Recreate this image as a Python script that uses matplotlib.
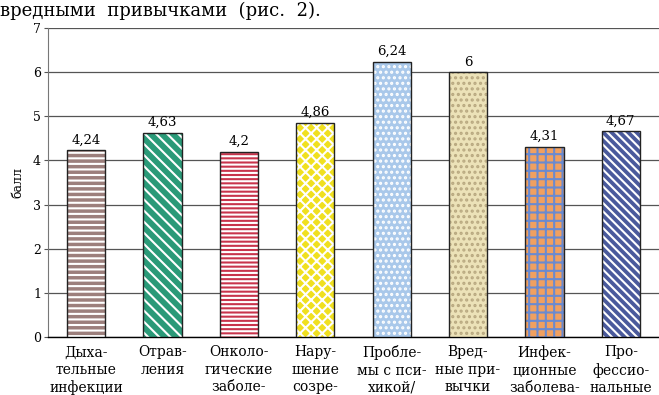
import numpy as np
import matplotlib.pyplot as plt

# данные (баллы по группам заболеваний)
categories = ["Дыха-\nтельные\nинфекции", "Отрав-\nления", "Онколо-\nгические\nзаболе-",
              "Нару-\nшение\nсозре-", "Пробле-\nмы с пси-\nхикой/", "Вред-\nные при-\nвычки",
              "Инфек-\nционные\nзаболева-", "Про-\nфессио-\nнальные"]
values = [4.24, 4.63, 4.2, 4.86, 6.24, 6, 4.31, 4.67]
value_labels = ["4,24", "4,63", "4,2", "4,86", "6,24", "6", "4,31", "4,67"]

# заливка и штриховка для каждого столбца
face_colors = ["#9c7f7c", "#2a9a78", "#c8344c", "#f0e020", "#a9c8ea", "#ece2b8", "#f0a060", "#4a5a9c"]
hatch_colors = ["white", "white", "white", "white", "white", "#b8a880", "#6a8ad0", "white"]
hatches = ["---", "\\\\\\", "----", "xxx", "...", "...", "++", "\\\\\\\\"]

plt.rcParams['font.family'] = 'DejaVu Serif'
plt.rcParams['hatch.linewidth'] = 1.5

fig = plt.figure(figsize=(6.59, 3.95), dpi=100)
ax = fig.add_axes([0.0728, 0.1468, 0.9272, 0.7822])

x = np.arange(len(values))
for i in range(len(values)):
    ax.bar(x[i], values[i], width=0.5, color=face_colors[i], hatch=hatches[i],
           edgecolor=hatch_colors[i], linewidth=0, zorder=3)
ax.bar(x, values, width=0.5, fill=False, edgecolor='#222222', linewidth=1.0, zorder=4)

for i in range(len(values)):
    ax.text(x[i], values[i] + 0.08, value_labels[i], ha='center', va='bottom', fontsize=9.5, zorder=5)

ax.set_xlim(-0.5, 7.5)
ax.set_ylim(0, 7)
ax.set_yticks(range(0, 8))
ax.tick_params(axis='y', labelsize=9, length=3, width=0.8, color='#555555', pad=2)
ax.set_xticks(x)
ax.set_xticklabels(categories, fontsize=10, linespacing=1.3)
ax.tick_params(axis='x', length=0, pad=6)
ax.yaxis.grid(True, color='#555555', linewidth=0.9, zorder=0)
ax.spines['top'].set_visible(False)
ax.spines['right'].set_visible(False)
ax.spines['left'].set_color('#777777')
ax.spines['bottom'].set_linewidth(1.0)
ax.set_ylabel("балл", fontsize=9, labelpad=6)

fig.text(0.0, 0.972, "вредными  привычками  (рис.  2).", ha='left', va='center', fontsize=13)

fig.savefig("out.png", dpi=100)
